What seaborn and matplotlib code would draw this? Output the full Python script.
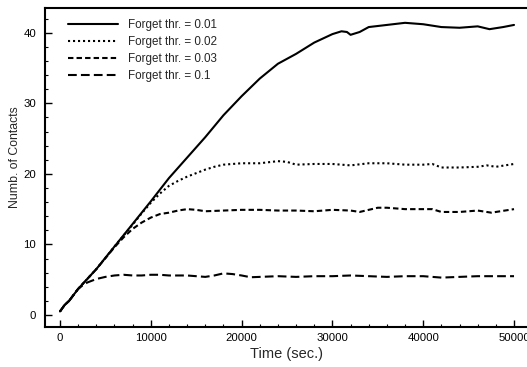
import matplotlib
matplotlib.use("Agg")
import matplotlib.pyplot as plt
import seaborn as sns
import pandas as pd
from matplotlib.ticker import MultipleLocator

# ---- data ----
labels = ["Forget thr. = 0.01", "Forget thr. = 0.02", "Forget thr. = 0.03", "Forget thr. = 0.1"]

t_001 = [0, 500, 1000, 2000, 4000, 6000, 8000, 10000, 12000, 14000, 16000, 18000, 20000,
         22000, 24000, 26000, 28000, 30000, 31000, 31600, 32000, 33000, 34000, 36000, 38000,
         40000, 42000, 44000, 46000, 47300, 48800, 50000]
v_001 = [0.5, 1.4, 2.0, 3.7, 6.5, 9.7, 12.9, 16.1, 19.4, 22.3, 25.2, 28.3, 31.0,
         33.5, 35.6, 37.0, 38.6, 39.8, 40.2, 40.1, 39.7, 40.1, 40.8, 41.1, 41.4,
         41.2, 40.8, 40.7, 40.9, 40.5, 40.8, 41.1]

t_002 = [0, 500, 1000, 2000, 4000, 6000, 8000, 9000, 10000, 11000, 12000, 13000, 14000,
         15000, 16000, 17000, 18000, 20000, 22000, 24000, 25000, 26000, 28000, 30000, 32000,
         34000, 36000, 38000, 40000, 41000, 42000, 44000, 46000, 47000, 48000, 50000]
v_002 = [0.5, 1.4, 2.0, 3.7, 6.5, 9.7, 12.8, 14.4, 15.9, 17.2, 18.3, 19.0, 19.6,
         20.1, 20.6, 21.0, 21.3, 21.5, 21.5, 21.8, 21.7, 21.3, 21.4, 21.4, 21.2,
         21.5, 21.5, 21.3, 21.3, 21.4, 20.9, 20.9, 21.0, 21.2, 21.0, 21.4]

t_003 = [0, 500, 1000, 2000, 4000, 6000, 7000, 8000, 9000, 10000, 11000, 12000, 13000,
         14000, 15000, 16000, 18000, 20000, 22000, 24000, 26000, 28000, 30000, 32000, 33000,
         35000, 36000, 38000, 40000, 41000, 42000, 44000, 46000, 47500, 48500, 50000]
v_003 = [0.5, 1.4, 2.0, 3.7, 6.5, 9.6, 11.0, 12.2, 13.1, 13.8, 14.3, 14.5, 14.8,
         15.0, 14.9, 14.7, 14.8, 14.9, 14.9, 14.8, 14.8, 14.7, 14.9, 14.8, 14.6,
         15.2, 15.2, 15.0, 15.0, 15.0, 14.6, 14.6, 14.8, 14.5, 14.7, 15.0]

t_01 = [0, 500, 1000, 2000, 2500, 3000, 4000, 5000, 6000, 7000, 8000, 9000, 10000, 11000,
        12000, 13000, 14000, 15000, 16000, 17000, 18000, 19000, 20000, 21000, 22000, 24000,
        26000, 28000, 30000, 32000, 34000, 36000, 38000, 40000, 42000, 44000, 46000, 48000, 50000]
v_01 = [0.5, 1.4, 2.0, 3.7, 4.2, 4.6, 5.1, 5.4, 5.6, 5.7, 5.6, 5.6, 5.7, 5.7,
        5.6, 5.6, 5.6, 5.5, 5.4, 5.6, 5.9, 5.8, 5.6, 5.35, 5.4, 5.5,
        5.4, 5.5, 5.5, 5.6, 5.5, 5.4, 5.5, 5.5, 5.3, 5.4, 5.5, 5.5, 5.5]

x_ticks = [0, 10000, 20000, 30000, 40000, 50000]
y_ticks = [0, 10, 20, 30, 40]

# ---- figure ----
sns.set_theme(style="ticks")
plt.rcParams["font.family"] = ["Liberation Sans", "DejaVu Sans"]

fig = plt.figure(figsize=(5.27, 3.67), dpi=100)
ax = fig.add_axes([45/527, 1 - 327/367, (529 - 45)/527, (327 - 8)/367])

series = [(t_001, v_001), (t_002, v_002), (t_003, v_003), (t_01, v_01)]
dash_styles = [(None, None), (1, 1.4), (2.6, 1.5), (4.2, 2.0)]
lw = 1.5
for (t, v), lab, ds in zip(series, labels, dash_styles):
    df = pd.DataFrame({"t": t, "v": v})
    sns.lineplot(data=df, x="t", y="v", ax=ax, color="black", linewidth=lw,
                 label=lab, estimator=None, sort=False)
    line = ax.get_lines()[-1]
    if ds[0] is None:
        line.set_linestyle("-")
    else:
        line.set_dashes(ds)

ax.set_xlim(-1650, 51650)
ax.set_ylim(-1.7, 43.5)
ax.set_xticks(x_ticks)
ax.set_yticks(y_ticks)
ax.xaxis.set_minor_locator(MultipleLocator(2000))
ax.yaxis.set_minor_locator(MultipleLocator(2))
ax.tick_params(which="major", direction="in", length=5, width=1.0, labelsize=8.2,
               color="black", labelcolor="black")
ax.tick_params(axis="x", which="major", pad=4.5)
ax.tick_params(axis="y", which="major", pad=6.5)
ax.tick_params(which="minor", direction="in", length=2.5, width=0.8, color="black")
ax.tick_params(axis="x", top=False)
ax.tick_params(axis="y", right=False)

for side in ["left", "bottom", "top"]:
    ax.spines[side].set_visible(True)
    ax.spines[side].set_linewidth(1.5)
    ax.spines[side].set_color("black")
ax.spines["right"].set_visible(False)

ax.set_xlabel("Time (sec.)", fontsize=10.5, labelpad=2.5)
ax.set_ylabel("Numb. of Contacts", fontsize=8.8)
ax.yaxis.set_label_coords(-0.05, 0.533)

leg = ax.legend(loc="upper left", frameon=False, fontsize=8.4, handlelength=4.3,
                handletextpad=0.86, labelspacing=0.42, bbox_to_anchor=(0.031, 0.99),
                borderaxespad=0.3)

fig.savefig("out.png", dpi=100)
